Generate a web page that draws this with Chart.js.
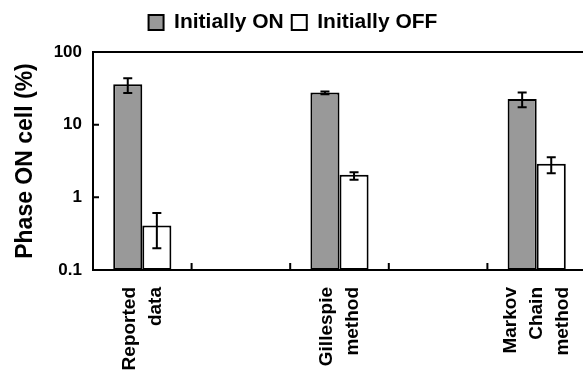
<!DOCTYPE html>
<html>
<head>
<meta charset="utf-8">
<script src="https://cdn.jsdelivr.net/npm/chart.js@4"></script>
<style>
body { margin: 0; overflow: hidden; background: #fff; }
#wrap { width: 590px; height: 382px; }
</style>
</head>
<body>
<div id="wrap"><canvas id="phaseChart" width="590" height="382"></canvas></div>
<script>
// categories (blank ones keep the gaps between groups)
const categories = [['Reported', 'data'], '', ['Gillespie', 'method'], '', ['Markov', 'Chain', 'method']];
const initiallyOn = [36, null, 27.7, null, 22.5];
const initiallyOnLow = [27.2, null, 26.3, null, 17.3];
const initiallyOnHigh = [43.6, null, 28.6, null, 27.7];
const initiallyOff = [0.41, null, 2.05, null, 2.9];
const initiallyOffLow = [0.2, null, 1.75, null, 2.15];
const initiallyOffHigh = [0.61, null, 2.22, null, 3.57];
const yTicks = [0.1, 1, 10, 100];
const yTickLabels = ['0.1', '1', '10', '100'];

const fontFamily = "'Liberation Sans', Arial, sans-serif";

// error bars, top frame line, inner ticks and the centred multi-line category labels
const extras = {
    id: 'extras',
    beforeLayout(chart) {
        const legend = chart.legend;
        if (legend && !legend._extraSpace) {
            const fit = legend.fit.bind(legend);
            legend.fit = function() { fit(); this.height += 9; };
            legend._extraSpace = true;
        }
    },
    afterDatasetsDraw(chart) {
        const {ctx, chartArea, scales: {x, y}} = chart;
        ctx.save();
        ctx.strokeStyle = '#000';
        ctx.lineWidth = 2;
        [[initiallyOnLow, initiallyOnHigh], [initiallyOffLow, initiallyOffHigh]].forEach(([low, high], di) => {
            chart.getDatasetMeta(di).data.forEach((bar, i) => {
                if (low[i] == null) return;
                const yl = y.getPixelForValue(low[i]);
                const yh = y.getPixelForValue(high[i]);
                ctx.beginPath();
                ctx.moveTo(bar.x, yl); ctx.lineTo(bar.x, yh);
                ctx.moveTo(bar.x - 4.5, yl); ctx.lineTo(bar.x + 4.5, yl);
                ctx.moveTo(bar.x - 4.5, yh); ctx.lineTo(bar.x + 4.5, yh);
                ctx.stroke();
            });
        });
        ctx.beginPath();
        ctx.moveTo(chartArea.left - 1, chartArea.top);
        ctx.lineTo(chartArea.right + 4, chartArea.top);
        const half = (x.getPixelForValue(1) - x.getPixelForValue(0)) / 2;
        for (let i = 0; i < categories.length - 1; i++) {
            const px = x.getPixelForValue(i) + half;
            ctx.moveTo(px, chartArea.bottom);
            ctx.lineTo(px, chartArea.bottom - 7);
        }
        yTicks.forEach(v => {
            const py = y.getPixelForValue(v);
            ctx.moveTo(chartArea.left, py);
            ctx.lineTo(chartArea.left + 6, py);
        });
        ctx.stroke();

        // category labels, rotated, lines centred on the group
        ctx.fillStyle = '#000';
        ctx.font = 'bold 19px ' + fontFamily;
        ctx.textAlign = 'right';
        ctx.textBaseline = 'middle';
        const lineGap = 26;
        categories.forEach((label, i) => {
            const lines = Array.isArray(label) ? label : [label];
            const px = x.getPixelForValue(i);
            lines.forEach((line, j) => {
                const cx = px + (j - (lines.length - 1) / 2) * lineGap;
                ctx.save();
                ctx.translate(cx, chartArea.bottom + 17);
                ctx.rotate(-Math.PI / 2);
                ctx.fillText(line, 0, 0);
                ctx.restore();
            });
        });
        ctx.restore();
    }
};

const ctx = document.getElementById('phaseChart').getContext('2d');
new Chart(ctx, {
    type: 'bar',
    data: {
        labels: categories,
        datasets: [{
            label: 'Initially ON',
            data: initiallyOn,
            backgroundColor: '#999999',
            borderColor: '#000',
            borderWidth: 2,
            borderSkipped: false
        }, {
            label: 'Initially OFF',
            data: initiallyOff,
            backgroundColor: '#ffffff',
            borderColor: '#000',
            borderWidth: 2,
            borderSkipped: false
        }]
    },
    options: {
        responsive: false,
        animation: false,
        events: [],
        devicePixelRatio: 1,
        categoryPercentage: 0.59,
        barPercentage: 1,
        layout: {padding: {top: 4, right: 4}},
        scales: {
            x: {
                grid: {display: true, drawOnChartArea: false, drawTicks: false},
                border: {display: true, color: '#000', width: 2},
                ticks: {display: false},
                afterFit(scale) {
                    scale.height = 112;
                    scale.paddingLeft = 0;
                    scale.paddingRight = 0;
                }
            },
            y: {
                type: 'logarithmic',
                min: 0.1,
                max: 100,
                afterBuildTicks(scale) {
                    scale.ticks = yTicks.map(v => ({value: v}));
                },
                grid: {display: true, drawOnChartArea: false, drawTicks: false},
                border: {display: true, color: '#000', width: 2},
                ticks: {
                    padding: 11,
                    color: '#000',
                    font: {family: fontFamily, size: 17, weight: 'bold'},
                    callback: (value, index) => yTickLabels[index]
                },
                title: {
                    display: true,
                    text: 'Phase ON cell (%)',
                    color: '#000',
                    padding: {top: 12, bottom: 0},
                    font: {family: fontFamily, size: 23, weight: 'bold'}
                },
                afterFit(scale) { scale.width = 93; }
            }
        },
        plugins: {
            legend: {
                position: 'top',
                labels: {
                    boxWidth: 15,
                    boxHeight: 15,
                    padding: 8,
                    color: '#000',
                    font: {family: fontFamily, size: 21, weight: 'bold'}
                }
            },
            tooltip: {enabled: false}
        }
    },
    plugins: [extras]
});
</script>
</body>
</html>
